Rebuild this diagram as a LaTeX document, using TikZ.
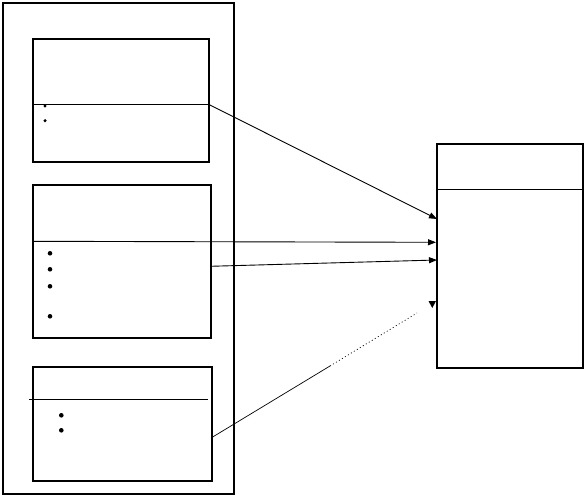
\documentclass[tikz,border=0pt]{standalone}
\usetikzlibrary{arrows.meta}
\begin{document}
\begin{tikzpicture}[x=1pt,y=-1pt,
  box/.style={draw,line width=2pt,inner sep=0pt,anchor=north west},
  thin/.style={line width=0.9pt},
  arr/.style={thin,-{Triangle[length=8pt,width=6pt]}},
  dotb/.style={fill,circle,inner sep=0pt}]
\useasboundingbox (0,0) rectangle (584,495);
\node[box,minimum width=231pt,minimum height=491pt] (outer) at (2,2) {};
\node[box,minimum width=176pt,minimum height=122.5pt] (b1) at (32,38) {};
\node[box,minimum width=178pt,minimum height=153pt] (b2) at (32,184) {};
\node[box,minimum width=179pt,minimum height=114pt] (b3) at (32,366) {};
\node[box,minimum width=146pt,minimum height=224pt] (R) at (436,143) {};
% divider lines
\coordinate (l1a) at (34,104);
\coordinate (l1b) at (208,104);
\coordinate (l2a) at (34,241.3);
\coordinate (l3a) at (29,399.3);
\coordinate (l3b) at (208,399.3);
\coordinate (rla) at (436,189.3);
\coordinate (rlb) at (582,189.3);
\draw[thin] (l1a) -- (l1b);
\draw[thin] (l3a) -- (l3b);
\draw[thin] (rla) -- (rlb);
% bullets
\foreach \y [count=\i] in {106,120.7} \node[dotb,minimum size=3.4pt] (p1\i) at (45,\y) {};
\foreach \y [count=\i] in {253.3,269.3,286.3,316.3} \node[dotb,minimum size=4.6pt] (p2\i) at (50,\y) {};
\foreach \y [count=\i] in {415.3,430.3} \node[dotb,minimum size=4.6pt] (p3\i) at (61.3,\y) {};
% arrow targets
\coordinate (t1) at (437,219);
\coordinate (t2) at (436,242.3);
\coordinate (t3) at (437,260);
\coordinate (s3) at (210,266.3);
\coordinate (s4) at (211,438);
\coordinate (m4) at (330,366);
\coordinate (e4) at (417,313);
\draw[arr] (l1b) -- (t1);
\draw[arr] (l2a) -- (t2);
\draw[arr] (s3) -- (t3);
\draw[line width=0.7pt] (s4) -- (m4);
\draw[line width=0.7pt,dash pattern=on 1pt off 2.5pt] (m4) -- (e4);
\fill (428.5,301) -- (436,301) -- (432.3,308) -- cycle;
\end{tikzpicture}
\end{document}
